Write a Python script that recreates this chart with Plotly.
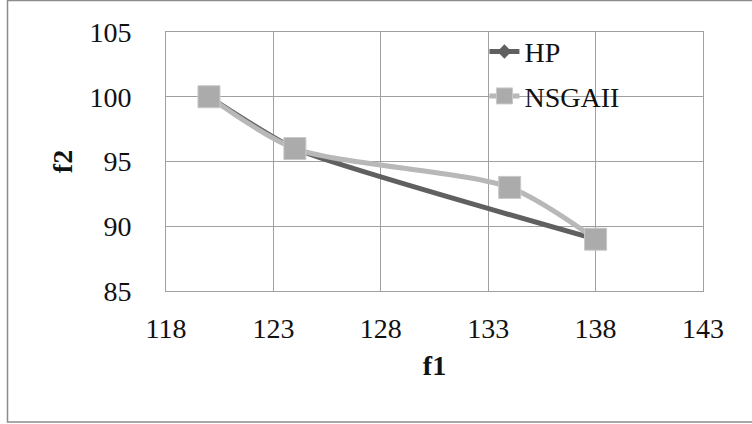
import plotly.graph_objects as go

hp_f1 = [120, 124, 138]
hp_f2 = [100, 96, 89]
ns_f1 = [120, 124, 134, 138]
ns_f2 = [100, 96, 93, 89]
x_ticks = [118, 123, 128, 133, 138, 143]
y_ticks = [85, 90, 95, 100, 105]

W, H = 752, 424
L, R, T, B = 166, 49, 32, 133
font = "Liberation Serif, Times New Roman, serif"

fig = go.Figure()
fig.add_trace(go.Scatter(
    x=hp_f1, y=hp_f2, name="HP", mode="lines+markers", legendgroup="a",
    line=dict(color="#606060", width=5, shape="spline", smoothing=0.5),
    marker=dict(symbol="diamond", size=11, color="#606060"),
))
fig.add_trace(go.Scatter(
    x=ns_f1, y=ns_f2, name="NSGAII", mode="lines+markers", legendgroup="b",
    line=dict(color="#b8b8b8", width=5, shape="spline", smoothing=0.75),
    marker=dict(symbol="square", size=22, color="#ababab",
                line=dict(color="#c8c8c8", width=1)),
))

pw = W - L - R
ph = H - T - B
fig.add_shape(type="rect", xref="paper", yref="paper",
              x0=(7.5 - L) / pw, x1=(760 - L) / pw,
              y0=(H - 422 - B) / ph, y1=(H - 0.5 - B) / ph,
              line=dict(color="#8c8c8c", width=1.5), layer="below")

fig.update_layout(
    width=W, height=H,
    margin=dict(l=L, r=R, t=T, b=B),
    paper_bgcolor="white", plot_bgcolor="white",
    font=dict(family=font, size=28, color="#111111"),
    showlegend=True,
    legend=dict(x=0.593, y=1.02, xanchor="left", yanchor="top",
                bgcolor="rgba(0,0,0,0)", tracegroupgap=5,
                font=dict(family=font, size=28)),
    xaxis=dict(range=[118, 143], tickvals=x_ticks, showgrid=True,
               gridcolor="#a0a0a0", gridwidth=1, zeroline=False,
               showline=True, linecolor="#a0a0a0", mirror=True,
               ticks="", ticklabelstandoff=12,
               title=dict(text="<b>f1</b>", standoff=12, font=dict(size=28))),
    yaxis=dict(range=[85, 105], tickvals=y_ticks, showgrid=True,
               gridcolor="#a0a0a0", gridwidth=1, zeroline=False,
               showline=True, linecolor="#a0a0a0", mirror=True,
               ticks="", ticklabelstandoff=28,
               title=dict(text="<b>f2</b>", standoff=8, font=dict(size=28))),
)

fig.write_html("out.html", config={"displayModeBar": False})
with open("out.html", "r", encoding="utf-8") as f:
    html = f.read()
html = html.replace("<head>", "<head><style>html,body{margin:0;padding:0;overflow:hidden;}</style>", 1)
with open("out.html", "w", encoding="utf-8") as f:
    f.write(html)
